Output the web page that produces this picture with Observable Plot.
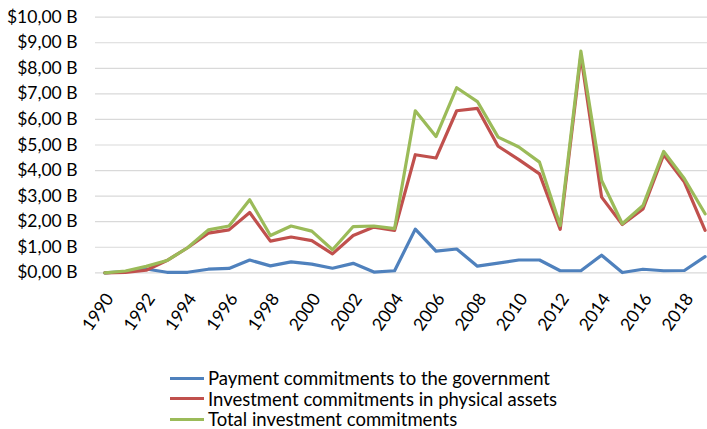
<!DOCTYPE html>
<html><head><meta charset="utf-8">
<script src="https://cdn.jsdelivr.net/npm/d3@7"></script>
<script src="https://cdn.jsdelivr.net/npm/@observablehq/plot@0.6"></script>
<style>
body{margin:0;background:#fff;font-family:Lato,"Open Sans",sans-serif;}
#legend{margin-left:170px;margin-top:18px;font-size:18.5px;color:#000;line-height:20.5px;}
.row{display:flex;align-items:center;}
.sw{width:34px;height:3px;margin-right:4px;}
</style></head>
<body><div id="chart"></div><div id="legend"></div>
<script>
const years = d3.range(1990, 2020);
const payment = [0,0.05,0.15,0.02,0.02,0.14,0.17,0.5,0.27,0.43,0.34,0.18,0.37,0.03,0.08,1.71,0.85,0.93,0.26,0.38,0.5,0.5,0.08,0.08,0.69,0.01,0.14,0.08,0.09,0.63];
const physical = [0,0.02,0.1,0.48,0.98,1.55,1.68,2.36,1.24,1.4,1.26,0.74,1.46,1.79,1.66,4.62,4.49,6.34,6.43,4.95,4.43,3.87,1.7,8.5,2.96,1.89,2.5,4.62,3.55,1.66];
const total = [0,0.07,0.25,0.48,0.98,1.68,1.83,2.86,1.46,1.83,1.63,0.9,1.81,1.83,1.73,6.34,5.33,7.24,6.7,5.31,4.92,4.33,1.85,8.67,3.61,1.92,2.63,4.75,3.68,2.31];
const seriesNames = ["Payment commitments to the government","Investment commitments in physical assets","Total investment commitments"];
const colors = ["#4f81bd","#c0504d","#9bbb59"];
const yTicks = d3.range(0, 11);
const xTicks = d3.range(1990, 2019, 2);

const rows = [];
[payment, physical, total].forEach((s, i) => s.forEach((v, j) => rows.push({year: years[j], value: v, series: seriesNames[i]})));

const chart = Plot.plot({
  width: 707, height: 350,
  marginLeft: 95, marginRight: 0, marginTop: 16, marginBottom: 78,
  style: {fontFamily: "Lato, 'Open Sans', sans-serif", fontSize: "17px", color: "#000"},
  x: {domain: [1990, 2019], range: [104.3, 704.6]},
  y: {domain: [0, 10], range: [272.3, 16.7]},
  color: {domain: seriesNames, range: colors},
  marks: [
    Plot.gridY(yTicks, {stroke: "#d9d9d9", strokeOpacity: 1, strokeWidth: 1.2}),
    Plot.axisY(yTicks, {tickSize: 0, tickPadding: 18, fontSize: 17.5, tickFormat: d => "$" + d.toFixed(2).replace(".", ",") + " B", label: null}),
    Plot.axisX(xTicks, {tickSize: 0, tickPadding: 4, tickRotate: -55, dy: 19, dx: 5, fontSize: 17.5, tickFormat: d => String(d), label: null}),
    Plot.line(rows, {x: "year", y: "value", z: "series", stroke: "series", strokeWidth: 3.2, strokeLinejoin: "round"})
  ]
});
document.getElementById("chart").appendChild(chart);
const lg = document.getElementById("legend");
seriesNames.forEach((n, i) => {
  const r = document.createElement("div"); r.className = "row";
  r.innerHTML = `<span class="sw" style="background:${colors[i]}"></span><span>${n}</span>`;
  lg.appendChild(r);
});
</script></body></html>
